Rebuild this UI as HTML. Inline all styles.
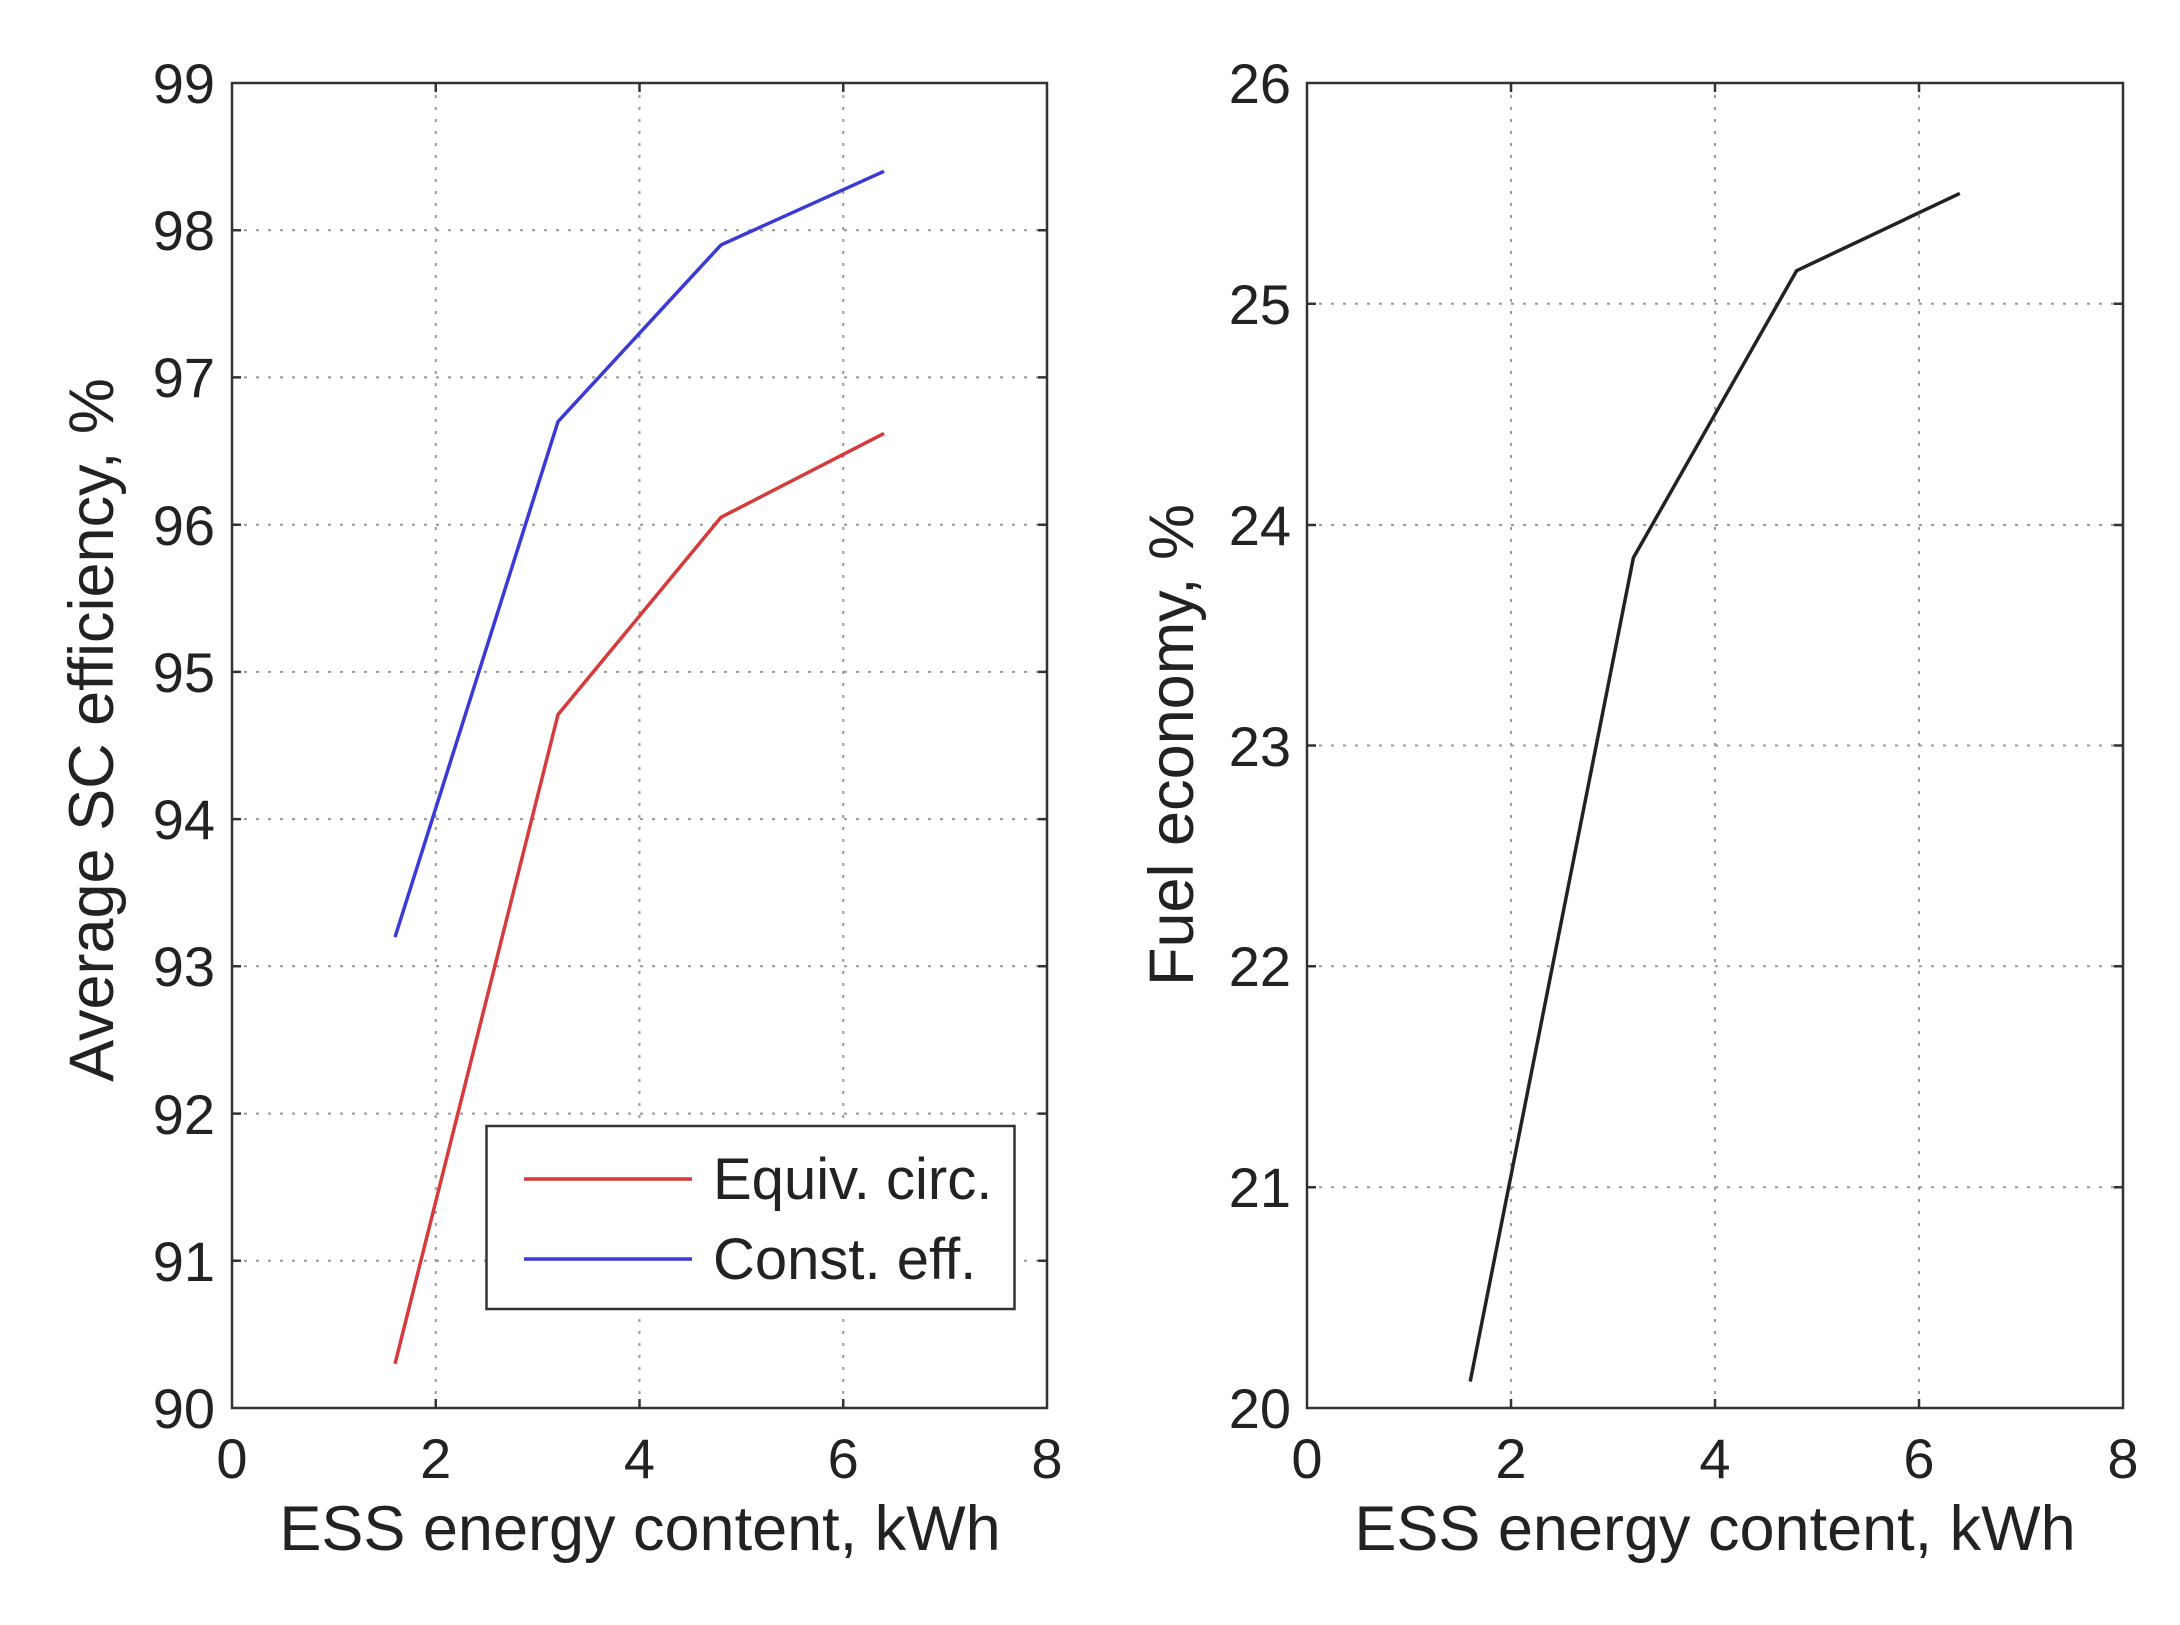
<!DOCTYPE html>
<html><head><meta charset="utf-8"><style>html,body{margin:0;padding:0;background:#fff}</style></head>
<body>
<svg width="2180" height="1620" viewBox="0 0 2180 1620" xmlns="http://www.w3.org/2000/svg" font-family="'Liberation Sans', sans-serif">
<rect width="2180" height="1620" fill="#fff"/>
<g stroke="#999" stroke-width="2" stroke-dasharray="3,9">
<line x1="435.75" y1="83" x2="435.75" y2="1408"/><line x1="639.5" y1="83" x2="639.5" y2="1408"/><line x1="843.25" y1="83" x2="843.25" y2="1408"/>
<line x1="232" y1="230.2" x2="1047" y2="230.2"/><line x1="232" y1="377.4" x2="1047" y2="377.4"/><line x1="232" y1="524.7" x2="1047" y2="524.7"/><line x1="232" y1="671.9" x2="1047" y2="671.9"/><line x1="232" y1="819.1" x2="1047" y2="819.1"/><line x1="232" y1="966.3" x2="1047" y2="966.3"/><line x1="232" y1="1113.6" x2="1047" y2="1113.6"/><line x1="232" y1="1260.8" x2="1047" y2="1260.8"/>
<line x1="1511" y1="83" x2="1511" y2="1408"/><line x1="1715" y1="83" x2="1715" y2="1408"/><line x1="1919" y1="83" x2="1919" y2="1408"/>
<line x1="1307" y1="303.8" x2="2123" y2="303.8"/><line x1="1307" y1="525" x2="2123" y2="525"/><line x1="1307" y1="745.5" x2="2123" y2="745.5"/><line x1="1307" y1="966.3" x2="2123" y2="966.3"/><line x1="1307" y1="1187.2" x2="2123" y2="1187.2"/>
</g>
<g stroke="#333" stroke-width="2.5" fill="none">
<rect x="232" y="83" width="815" height="1325"/>
<rect x="1307" y="83" width="816" height="1325"/>
<path d="M435.75 1408v-9M639.5 1408v-9M843.25 1408v-9M435.75 83v9M639.5 83v9M843.25 83v9"/>
<path d="M232 230.2h9M232 377.4h9M232 524.7h9M232 671.9h9M232 819.1h9M232 966.3h9M232 1113.6h9M232 1260.8h9M1047 230.2h-9M1047 377.4h-9M1047 524.7h-9M1047 671.9h-9M1047 819.1h-9M1047 966.3h-9M1047 1113.6h-9M1047 1260.8h-9"/>
<path d="M1511 1408v-9M1715 1408v-9M1919 1408v-9M1511 83v9M1715 83v9M1919 83v9"/>
<path d="M1307 303.8h9M1307 525h9M1307 745.5h9M1307 966.3h9M1307 1187.2h9M2123 303.8h-9M2123 525h-9M2123 745.5h-9M2123 966.3h-9M2123 1187.2h-9"/>
</g>
<polyline points="395,937.1 558,421.6 721,244.9 884,171.3" fill="none" stroke="#3a3ad6" stroke-width="3.5"/>
<polyline points="395,1363.8 558,714.6 721,517.3 884,433.4" fill="none" stroke="#d63a3a" stroke-width="3.5"/>
<polyline points="1470.2,1381.5 1633.4,557.8 1796.6,270.7 1959.8,193.4" fill="none" stroke="#222" stroke-width="3.5"/>
<rect x="486.5" y="1126" width="528" height="183" fill="#fff" stroke="#333" stroke-width="2.5"/>
<line x1="524" y1="1179" x2="692" y2="1179" stroke="#d63a3a" stroke-width="3.5"/>
<line x1="524" y1="1259" x2="692" y2="1259" stroke="#3a3ad6" stroke-width="3.5"/>
<g font-size="58" fill="#222">
<text x="713" y="1199">Equiv. circ.</text>
<text x="713" y="1279">Const. eff.</text>
</g>
<g font-size="56" fill="#222" text-anchor="end">
<text x="215" y="103">99</text><text x="215" y="250">98</text><text x="215" y="397">97</text><text x="215" y="545">96</text><text x="215" y="692">95</text><text x="215" y="839">94</text><text x="215" y="986">93</text><text x="215" y="1134">92</text><text x="215" y="1281">91</text><text x="215" y="1428">90</text>
<text x="1291" y="103">26</text><text x="1291" y="324">25</text><text x="1291" y="545">24</text><text x="1291" y="766">23</text><text x="1291" y="986">22</text><text x="1291" y="1207">21</text><text x="1291" y="1428">20</text>
</g>
<g font-size="56" fill="#222" text-anchor="middle">
<text x="232" y="1478">0</text><text x="435.75" y="1478">2</text><text x="639.5" y="1478">4</text><text x="843.25" y="1478">6</text><text x="1047" y="1478">8</text>
<text x="1307" y="1478">0</text><text x="1511" y="1478">2</text><text x="1715" y="1478">4</text><text x="1919" y="1478">6</text><text x="2123" y="1478">8</text>
<text x="640" y="1550" font-size="63">ESS energy content, kWh</text>
<text x="1715" y="1550" font-size="63">ESS energy content, kWh</text>
<text transform="translate(113,730) rotate(-90)" font-size="63">Average SC efficiency, %</text>
<text transform="translate(1193,745) rotate(-90)" font-size="63">Fuel economy, %</text>
</g>
</svg>
</body></html>
